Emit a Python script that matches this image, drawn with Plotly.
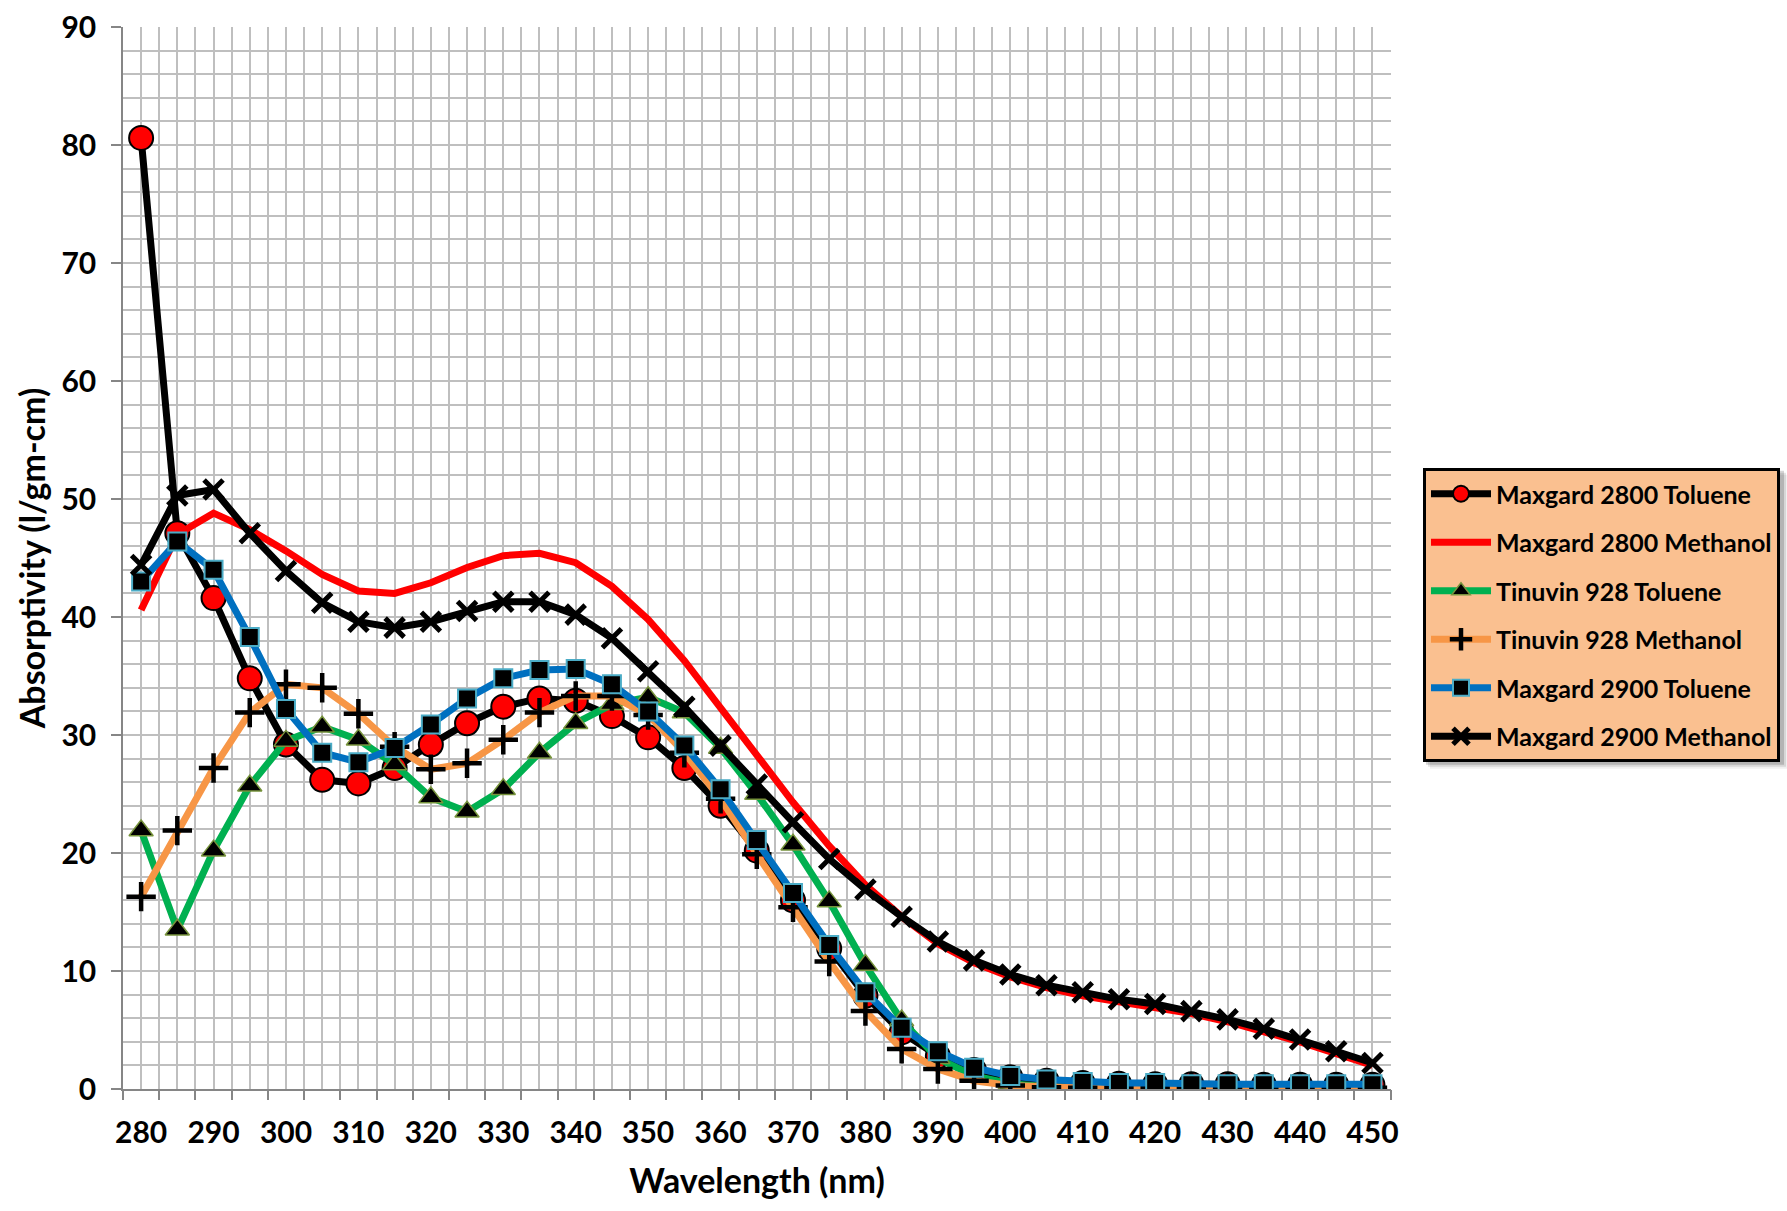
import plotly.graph_objects as go

wavelength = list(range(280, 455, 5))

maxgard2800_toluene = [80.6, 47.1, 41.6, 34.8, 29.2, 26.2, 25.9, 27.2, 29.2, 31.0, 32.4, 33.1, 32.9, 31.6,
                       29.8, 27.2, 24.0, 20.2, 16.0, 11.9, 7.9, 4.8, 2.8, 1.6, 1.0, 0.7, 0.5, 0.45, 0.4,
                       0.4, 0.4, 0.35, 0.35, 0.35, 0.35]
maxgard2800_methanol = [40.6, 47.0, 48.8, 47.4, 45.6, 43.6, 42.2, 42.0, 42.9, 44.2, 45.2, 45.4, 44.6, 42.6,
                        39.8, 36.3, 32.3, 28.3, 24.3, 20.6, 17.3, 14.6, 12.3, 10.7, 9.5, 8.6, 7.9, 7.4,
                        6.9, 6.4, 5.7, 4.9, 4.0, 3.0, 2.0]
tinuvin928_toluene = [21.9, 13.5, 20.2, 25.7, 29.5, 30.7, 29.6, 27.5, 24.7, 23.5, 25.4, 28.5, 31.0, 32.6,
                      33.2, 31.9, 28.9, 25.0, 20.7, 15.9, 10.5, 5.8, 2.6, 1.1, 0.45, 0.2, 0.15, 0.1, 0.1,
                      0.1, 0.1, 0.1, 0.1, 0.1, 0.1]
tinuvin928_methanol = [16.3, 21.9, 27.2, 31.9, 34.3, 34.0, 31.8, 29.0, 27.1, 27.6, 29.6, 31.9, 33.3, 33.3,
                       31.7, 28.5, 24.6, 19.9, 15.4, 10.8, 6.6, 3.4, 1.7, 0.7, 0.3, 0.15, 0.1, 0.1, 0.1,
                       0.1, 0.1, 0.1, 0.1, 0.1, 0.1]
maxgard2900_toluene = [43.0, 46.4, 44.0, 38.3, 32.2, 28.5, 27.7, 28.9, 30.9, 33.1, 34.8, 35.5, 35.6, 34.3,
                       32.0, 29.1, 25.4, 21.1, 16.6, 12.2, 8.2, 5.2, 3.2, 1.8, 1.1, 0.8, 0.6, 0.5, 0.5,
                       0.4, 0.4, 0.4, 0.4, 0.4, 0.4]
maxgard2900_methanol = [44.4, 50.3, 50.8, 47.1, 43.9, 41.2, 39.6, 39.1, 39.6, 40.5, 41.3, 41.3, 40.2, 38.2,
                        35.4, 32.4, 29.1, 25.8, 22.6, 19.5, 16.9, 14.6, 12.5, 10.9, 9.7, 8.8, 8.2, 7.6,
                        7.2, 6.6, 5.9, 5.1, 4.2, 3.2, 2.2]

x_labels = list(range(280, 460, 10))
y_labels = list(range(0, 100, 10))

FONT = "Lato"
GRID = "#BFBFBF"
AXIS = "#868686"

fig = go.Figure()

series = [
    ("Maxgard 2800 Toluene", maxgard2800_toluene, dict(color="black", width=7),
     dict(symbol="circle", size=24, color="#FF0000", line=dict(color="black", width=2)), "lines+markers"),
    ("Maxgard 2800 Methanol", maxgard2800_methanol, dict(color="#FF0000", width=7), None, "lines"),
    ("Tinuvin 928 Toluene", tinuvin928_toluene, dict(color="#00B050", width=7),
     dict(symbol="triangle-up", size=21, color="black", line=dict(color="#77933C", width=1.5)), "lines+markers"),
    ("Tinuvin 928 Methanol", tinuvin928_methanol, dict(color="#F79646", width=7),
     dict(symbol="cross-thin", size=21, color="black", line=dict(color="black", width=4.5)), "lines+markers"),
    ("Maxgard 2900 Toluene", maxgard2900_toluene, dict(color="#0070C0", width=7),
     dict(symbol="square", size=18, color="black", line=dict(color="#4BACC6", width=2)), "lines+markers"),
    ("Maxgard 2900 Methanol", maxgard2900_methanol, dict(color="black", width=7),
     dict(symbol="x-thin", size=19, color="black", line=dict(color="black", width=5)), "lines+markers"),
]

for i, (name, vals, line, marker, mode) in enumerate(series):
    kw = dict(x=wavelength, y=vals, name=name, mode=mode, line=line, legendgroup=f"g{i}")
    if marker is not None:
        kw["marker"] = marker
    fig.add_trace(go.Scatter(**kw))

# helper trace for the boundary tick axis
fig.add_trace(go.Scatter(x=[], y=[], xaxis="x2", showlegend=False, hoverinfo="skip"))

W, H = 1787, 1211
ML, MR, MT, MB = 123, 396, 27, 121.5
PW, PH = W - ML - MR, H - MT - MB
LEG_L, LEG_T = 1423, 468          # legend box top-left (px)
LW, LH = 356, 292                 # legend box size (px)

def px_to_paper_x(px):
    return (px - ML) / PW

def px_to_paper_y(py):
    return (H - MB - py) / PH

shadow = []
for off, op in [(9, 0.06), (7, 0.1), (5, 0.16)]:
    shadow.append(dict(type="rect", xref="paper", yref="paper",
                       x0=px_to_paper_x(LEG_L + off - 2), x1=px_to_paper_x(LEG_L + LW + off),
                       y0=px_to_paper_y(LEG_T + LH + off), y1=px_to_paper_y(LEG_T + off - 2),
                       fillcolor=f"rgba(0,0,0,{op})", line=dict(width=0), layer="above"))

xr = [277.5, 452.56]
fig.update_layout(
    width=W, height=H,
    paper_bgcolor="white", plot_bgcolor="white",
    margin=dict(l=ML, r=MR, t=MT, b=MB),
    font=dict(family=FONT, color="black", size=28, weight=700),
    xaxis=dict(
        range=xr, tickmode="array", tickvals=x_labels, ticktext=[str(v) for v in x_labels],
        ticks="", showgrid=True, gridcolor=GRID, gridwidth=1.5,
        minor=dict(tick0=277.5, dtick=2.5, showgrid=True, gridcolor=GRID, gridwidth=1.5),
        showline=True, linecolor=AXIS, linewidth=1.5, zeroline=False, automargin=False,
        tickfont=dict(family=FONT, size=30, weight=700, color="black"),
        ticklabelstandoff=16,
        title=dict(text="Wavelength (nm)", font=dict(family=FONT, size=34, weight=700, color="black"), standoff=21),
    ),
    xaxis2=dict(
        range=xr, overlaying="x", anchor="y", side="bottom", automargin=False,
        tickmode="linear", tick0=277.5, dtick=5, ticks="outside", ticklen=10, tickwidth=1.5,
        tickcolor=AXIS, showticklabels=False, showgrid=False, zeroline=False, showline=False,
    ),
    yaxis=dict(
        range=[0, 90], tickmode="array", tickvals=y_labels, ticktext=[str(v) for v in y_labels],
        ticks="outside", ticklen=10, tickwidth=1.5, tickcolor=AXIS,
        showgrid=True, gridcolor=GRID, gridwidth=1.5,
        minor=dict(dtick=2, showgrid=True, gridcolor=GRID, gridwidth=1.5),
        showline=True, linecolor=AXIS, linewidth=1.5, zeroline=False, automargin=False,
        tickfont=dict(family=FONT, size=30, weight=700, color="black"),
        ticklabelstandoff=9,
        title=dict(text="Absorptivity (l/gm-cm)", font=dict(family=FONT, size=34, weight=700, color="black"), standoff=6),
    ),
    legend=dict(
        xref="container", yref="container",
        x=LEG_L / W, y=1 - LEG_T / H, xanchor="left", yanchor="top",
        bgcolor="#FAC090", bordercolor="black", borderwidth=3,
        font=dict(family=FONT, size=25, weight=700, color="black"),
        traceorder="grouped", tracegroupgap=13, itemwidth=60,
    ),
    shapes=shadow,
)

fig.write_html("out.html", config={"displayModeBar": False},
               post_script="document.body.style.margin='0';document.body.style.padding='0';")
